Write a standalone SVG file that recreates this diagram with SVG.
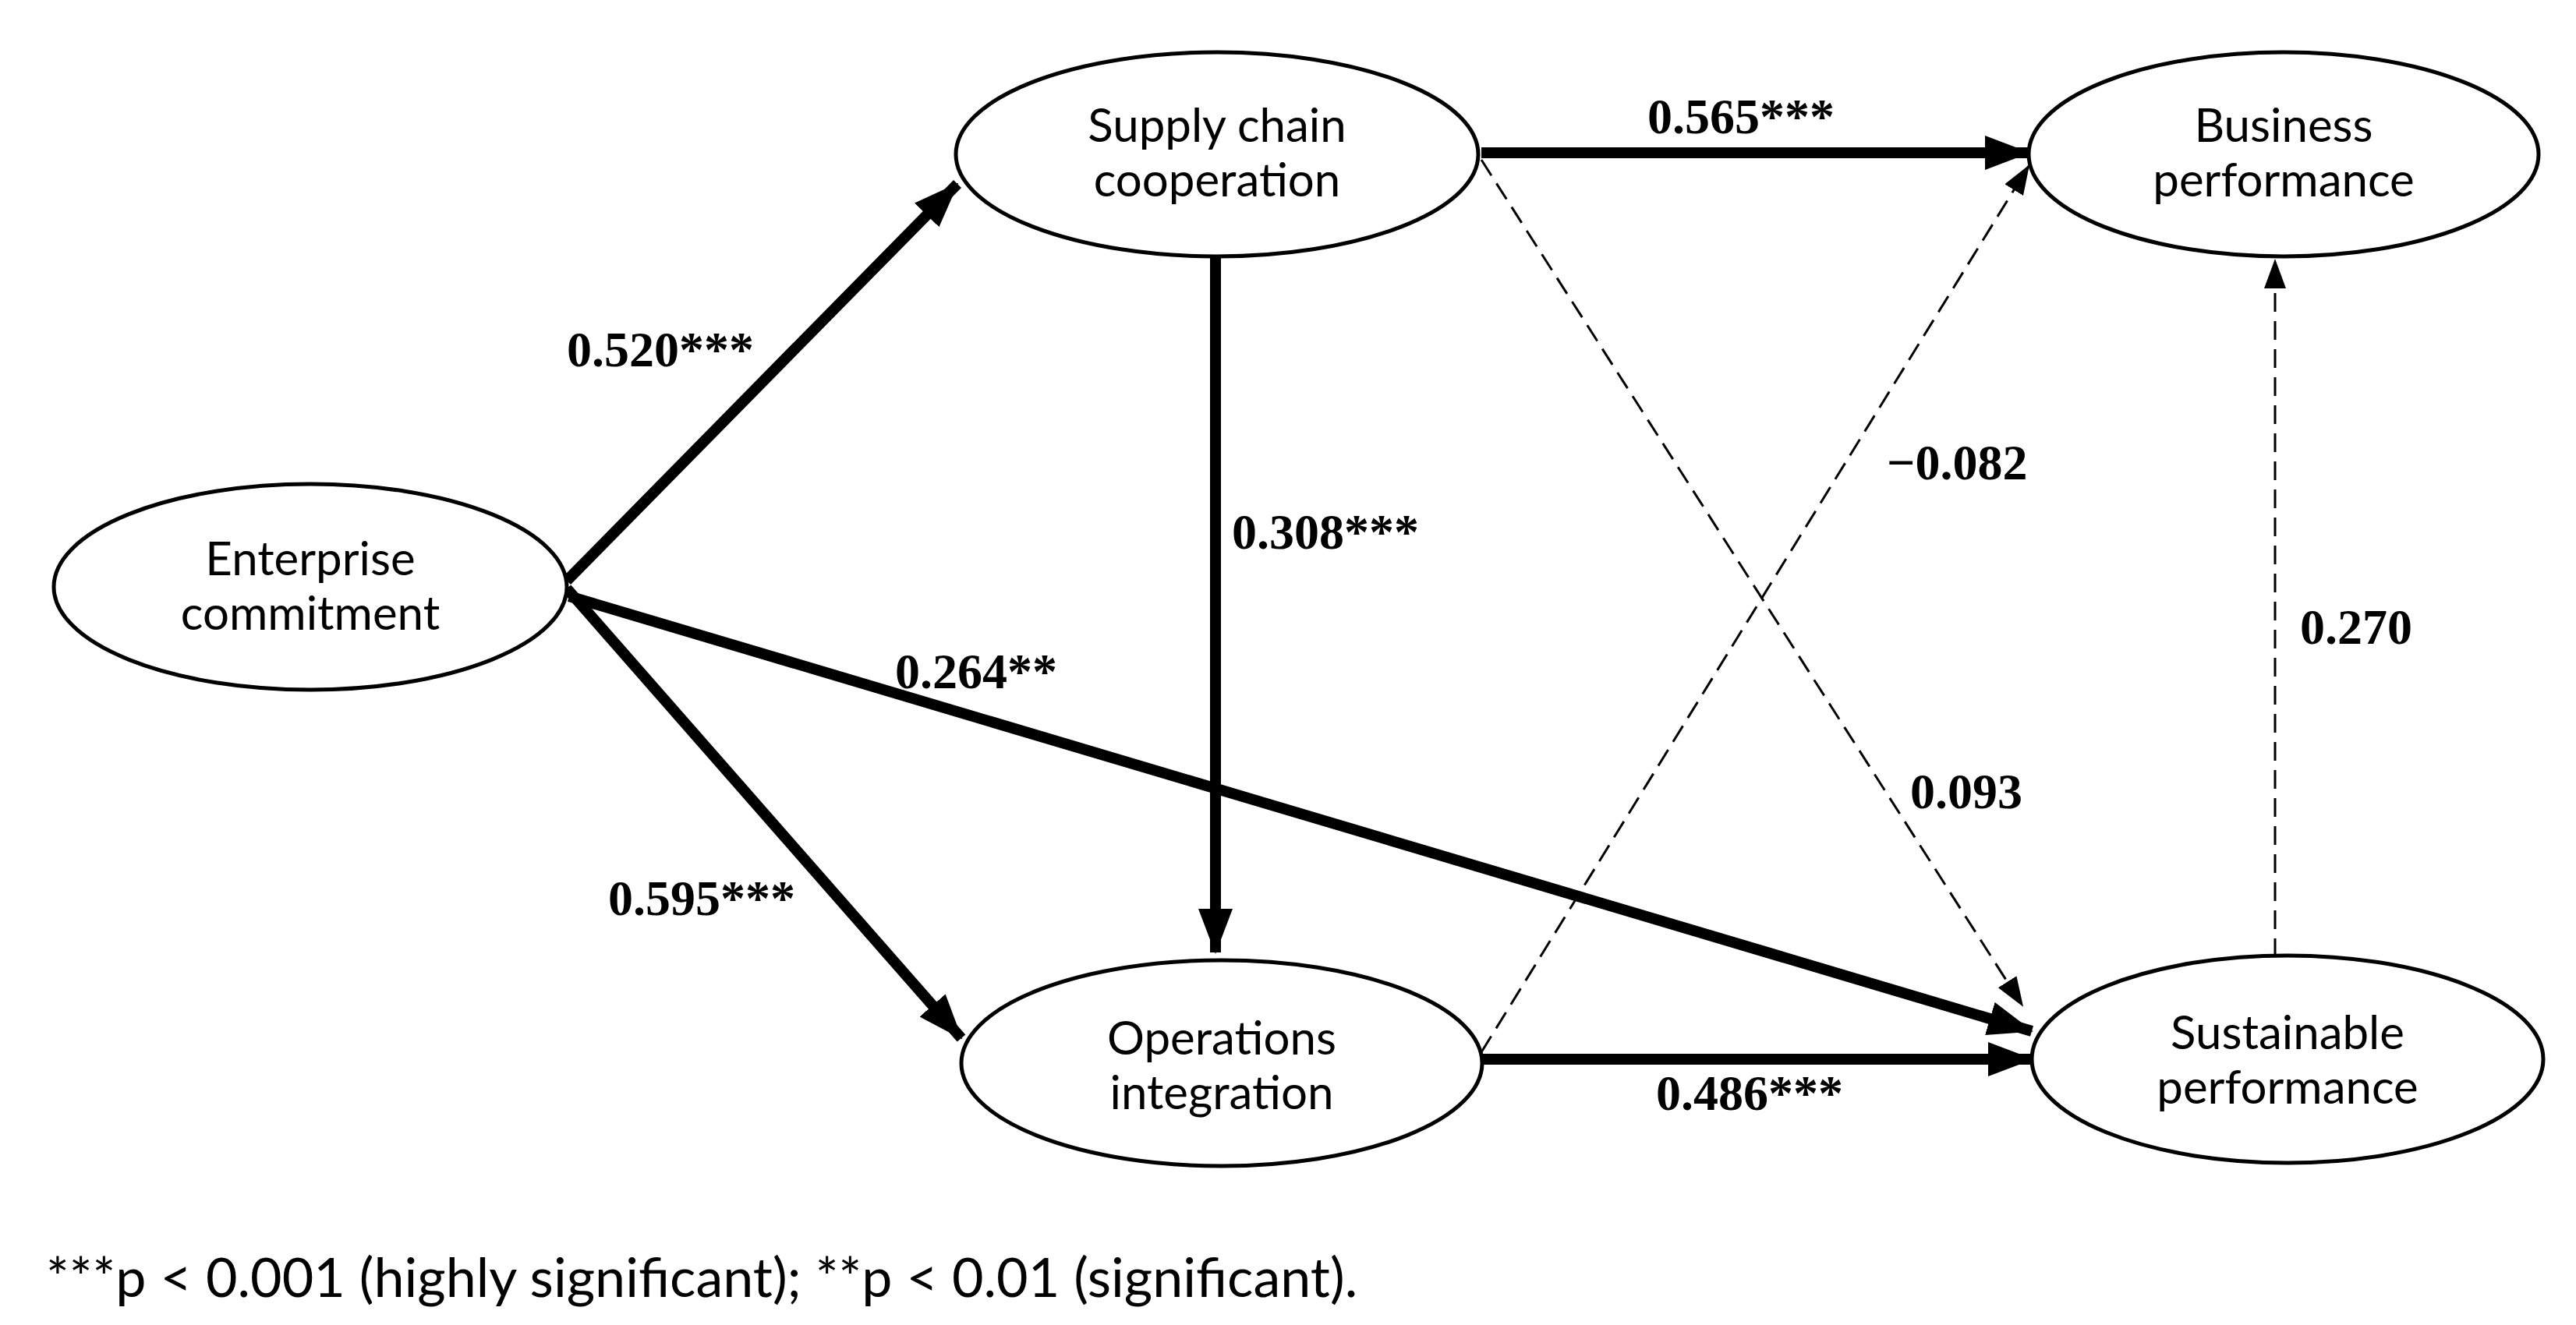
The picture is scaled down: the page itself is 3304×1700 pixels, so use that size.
<svg xmlns="http://www.w3.org/2000/svg" width="3304" height="1700" viewBox="0 0 3304 1700">
<style>
.node ellipse{fill:#fff;stroke:#000;stroke-width:5}
.node text{font-family:Lato,"Open Sans",sans-serif;font-size:60px;text-anchor:middle;fill:#000}
.coef{font-family:"Liberation Serif",serif;font-weight:bold;font-size:64px;fill:#000}
.thick{stroke:#000;stroke-width:14;fill:none}
.dash{stroke:#000;stroke-width:3;fill:none;stroke-dasharray:24 12}
</style>
<defs>
<marker id="ah" markerUnits="userSpaceOnUse" markerWidth="58" markerHeight="44" refX="56" refY="22" orient="auto"><path d="M0,0 L58,22 L0,44 Z" fill="#000"/></marker>
<marker id="as" markerUnits="userSpaceOnUse" markerWidth="38" markerHeight="28" refX="36" refY="14" orient="auto"><path d="M0,0 L38,14 L0,28 Z" fill="#000"/></marker>
</defs>
<rect width="3304" height="1700" fill="#fff"/>
<g id="connectors">
<line class="thick" x1="727" y1="745" x2="1228" y2="236" marker-end="url(#ah)"/>
<line class="thick" x1="727" y1="755" x2="1233" y2="1332" marker-end="url(#ah)"/>
<line class="thick" x1="730" y1="765" x2="2606" y2="1323" marker-end="url(#ah)"/>
<line class="thick" x1="1559" y1="329" x2="1559" y2="1222" marker-end="url(#ah)"/>
<line class="thick" x1="1900" y1="196" x2="2602" y2="196" marker-end="url(#ah)"/>
<line class="thick" x1="1900" y1="1359" x2="2606" y2="1359" marker-end="url(#ah)"/>
<line class="dash" x1="1900" y1="205" x2="2594" y2="1290" marker-end="url(#as)"/>
<line class="dash" x1="1900" y1="1350" x2="2602" y2="213" marker-end="url(#as)"/>
<line class="dash" x1="2918" y1="1228" x2="2918" y2="334" marker-end="url(#as)"/>
<text class="coef" x="727" y="470">0.520***</text>
<text class="coef" x="2113" y="171">0.565***</text>
<text class="coef" x="1580" y="704">0.308***</text>
<text class="coef" x="2420" y="615">−0.082</text>
<text class="coef" x="1148" y="883">0.264**</text>
<text class="coef" x="2950" y="826">0.270</text>
<text class="coef" x="2450" y="1037">0.093</text>
<text class="coef" x="780" y="1174">0.595***</text>
<text class="coef" x="2124" y="1424">0.486***</text>
</g>
<g id="n-enterprise" class="node"><ellipse cx="398" cy="753" rx="329" ry="132"/><text x="398" y="738">Enterprise</text><text x="398" y="808">commitment</text></g>
<g id="n-supply" class="node"><ellipse cx="1561" cy="198" rx="335" ry="131"/><text x="1561" y="182">Supply chain</text><text x="1561" y="252">cooperation</text></g>
<g id="n-business" class="node"><ellipse cx="2929" cy="198" rx="327" ry="131"/><text x="2929" y="182">Business</text><text x="2929" y="252">performance</text></g>
<g id="n-operations" class="node"><ellipse cx="1567" cy="1364" rx="334" ry="132"/><text x="1567" y="1353">Operations</text><text x="1567" y="1423">integration</text></g>
<g id="n-sustainable" class="node"><ellipse cx="2934" cy="1359" rx="328" ry="133"/><text x="2934" y="1346">Sustainable</text><text x="2934" y="1416">performance</text></g>
<text x="59" y="1664" font-family="Lato,'Open Sans',sans-serif" font-size="70">***p &lt; 0.001 (highly significant); **p &lt; 0.01 (significant).</text>
</svg>
